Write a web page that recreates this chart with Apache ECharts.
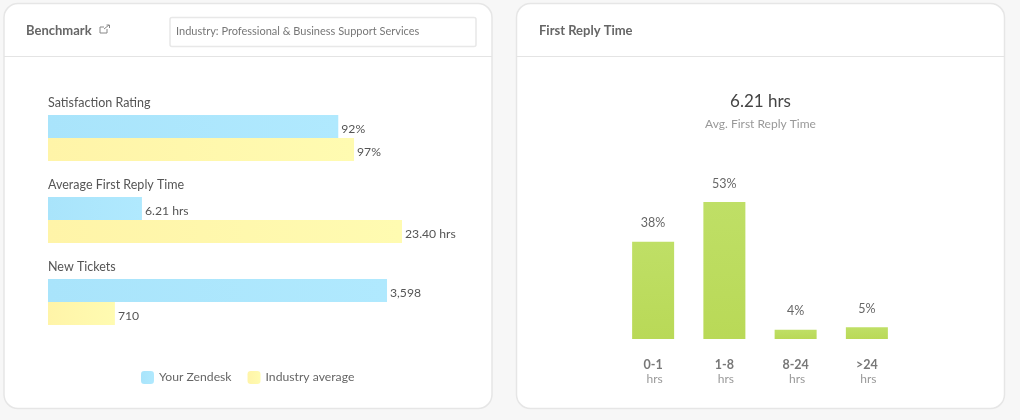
<!DOCTYPE html>
<html>
<head>
<meta charset="utf-8">
<title>Benchmark</title>
<style>
html,body{margin:0;padding:0;background:#f7f7f7;}
#main{width:1020px;height:420px;}
</style>
<script src="https://cdn.jsdelivr.net/npm/echarts@6/dist/echarts.min.js"></script>
</head>
<body>
<div id="main"></div>
<script>
var FONT = 'Lato';

// benchmark panel
var seriesNames = ['Your Zendesk', 'Industry average'];
var groupNames = ['Satisfaction Rating', 'Average First Reply Time', 'New Tickets'];
var yourValues = [92, 6.21, 3598];
var industryValues = [97, 23.40, 710];
var yourLabels = ['92%', '6.21 hrs', '3,598'];
var industryLabels = ['97%', '23.40 hrs', '710'];
var axisMax = [112.2, 23.4, 3757];
var groupTop = [115, 197, 279];

// first reply time panel
var replyBuckets = ['0-1', '1-8', '8-24', '>24'];
var replyShares = [37.6, 53, 3.6, 4.5];
var replyLabels = ['38%', '53%', '4%', '5%'];

var chart = echarts.init(document.getElementById('main'));

function grad(a, b, vertical) {
	return new echarts.graphic.LinearGradient(0, 0, vertical ? 0 : 1, vertical ? 1 : 0, [
		{offset: 0, color: a}, {offset: 1, color: b}
	]);
}

var grids = [], xAxes = [], yAxes = [], series = [], titles = [];

function text(t, x, y, size, color, weight, align) {
	titles.push({
		text: t, left: x, top: y, textAlign: align || 'left',
		padding: 0,
		textStyle: {fontFamily: FONT, fontSize: size, color: color, fontWeight: weight || 'normal'}
	});
}

groupNames.forEach(function(name, i){
	grids.push({left: 48, top: groupTop[i], width: 354, height: 46});
	xAxes.push({gridIndex: i, type: 'value', min: 0, max: axisMax[i], show: false});
	yAxes.push({gridIndex: i, type: 'category', inverse: true, data: [name], show: false});
	series.push({
		name: seriesNames[0], type: 'bar', xAxisIndex: i, yAxisIndex: i,
		barWidth: 23, barGap: '0%', data: [yourValues[i]],
		itemStyle: {color: grad('#a9e4fb', '#b0e9fe')},
		label: {show: true, position: 'right', distance: 3, offset: [0, 3], formatter: yourLabels[i],
			fontFamily: FONT, fontSize: 12.2, color: '#555'}
	});
	series.push({
		name: seriesNames[1], type: 'bar', xAxisIndex: i, yAxisIndex: i,
		barWidth: 23, barGap: '0%', data: [industryValues[i]],
		itemStyle: {color: grad('#fff4a8', '#fffbb1')},
		label: {show: true, position: 'right', distance: 3, offset: [0, 3], formatter: industryLabels[i],
			fontFamily: FONT, fontSize: 12.2, color: '#555'}
	});
	text(name, 48, groupTop[i] - 19, 12.5, '#555');
});

// bar chart on the right
grids.push({left: 617.5, top: 170, width: 285, height: 169});
xAxes.push({
	gridIndex: 3, type: 'category', data: replyBuckets,
	axisLine: {show: false}, axisTick: {show: false},
	axisLabel: {
		margin: 18,
		formatter: function(v){ return '{b|' + v + '}\n{h|hrs}'; },
		rich: {
			b: {fontFamily: FONT, fontSize: 12.5, fontWeight: 'bold', color: '#777', lineHeight: 15},
			h: {fontFamily: FONT, fontSize: 12, color: '#999', lineHeight: 15, padding: [0, 0, 0, 3]}
		}
	}
});
yAxes.push({gridIndex: 3, type: 'value', min: 0, max: 65.4, show: false});
series.push({
	type: 'bar', xAxisIndex: 3, yAxisIndex: 3, barWidth: 42, data: replyShares,
	itemStyle: {color: grad('#bfdf66', '#b9d957', true)},
	label: {show: true, position: 'top', distance: 12,
		formatter: function(p){ return replyLabels[p.dataIndex]; },
		fontFamily: FONT, fontSize: 12.5, color: '#666'}
});

// header text
text('Benchmark', 26, 24, 13, '#666', 'bold');
text('First Reply Time', 539, 24, 13, '#666', 'bold');
text('Industry: Professional & Business Support Services', 176, 26, 11, '#777');
text('6.21 hrs', 760.5, 93, 17, '#444', 'normal', 'center');
text('Avg. First Reply Time', 760.5, 118, 12, '#999', 'normal', 'center');

function card(x){
	return {type: 'rect', z: -2,
		shape: {x: x, y: 3.5, width: 488, height: 405, r: 14},
		style: {fill: '#fff', stroke: '#e6e6e6', lineWidth: 1.5}};
}
function headerLine(x){
	return {type: 'line', z: -1, shape: {x1: x, y1: 56.5, x2: x + 488, y2: 56.5},
		style: {stroke: '#e4e4e4', lineWidth: 1}};
}

var option = {
	backgroundColor: '#f7f7f7',
	animation: false,
	textStyle: {fontFamily: FONT},
	title: titles,
	grid: grids,
	xAxis: xAxes,
	yAxis: yAxes,
	series: series,
	legend: {
		data: seriesNames, left: 141, top: 371, padding: 0, itemWidth: 13, itemHeight: 13, itemGap: 16,
		icon: 'roundRect', selectedMode: false,
		textStyle: {fontFamily: FONT, fontSize: 12.2, color: '#666'}
	},
	graphic: [
		card(4), card(516.5), headerLine(4), headerLine(516.5),
		{type: 'rect', z: -1, shape: {x: 170, y: 17.5, width: 306, height: 29, r: 2},
			style: {fill: '#fff', stroke: '#e8e8e8', lineWidth: 1.5}},
		// external link glyph next to Benchmark
		{type: 'polyline', z: -1, shape: {points: [[107, 29], [107, 33], [100, 33], [100, 27], [104, 27]]},
			style: {fill: 'none', stroke: '#888', lineWidth: 1}},
		{type: 'polyline', z: -1, shape: {points: [[104, 29], [109, 25]]},
			style: {fill: 'none', stroke: '#888', lineWidth: 1}},
		{type: 'polyline', z: -1, shape: {points: [[106.5, 25], [109.5, 25], [109.5, 28]]},
			style: {fill: 'none', stroke: '#888', lineWidth: 1}}
	]
};
chart.setOption(option);
</script>
</body>
</html>
